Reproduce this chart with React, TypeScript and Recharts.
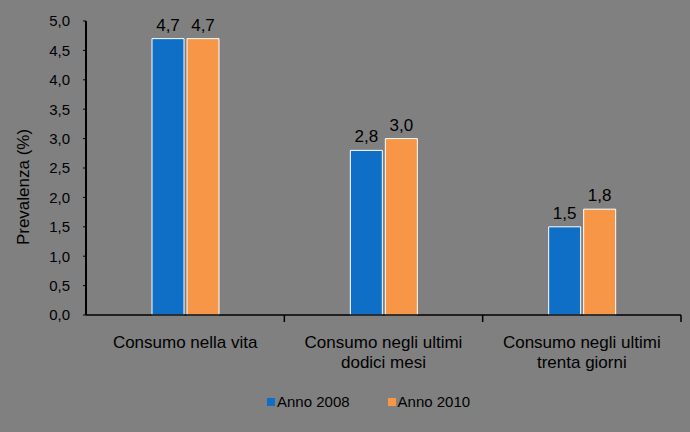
import React from "react";
import { BarChart, Bar, XAxis, YAxis, Legend, LabelList } from "recharts";

const categories = [
  "Consumo nella vita",
  "Consumo negli ultimi\ndodici mesi",
  "Consumo negli ultimi\ntrenta giorni",
];
const anno2008 = [4.7, 2.8, 1.5];
const anno2010 = [4.7, 3.0, 1.8];
const yTicks = [0, 0.5, 1, 1.5, 2, 2.5, 3, 3.5, 4, 4.5, 5];
const seriesNames = ["Anno 2008", "Anno 2010"];
const colors = ["#0F6FC6", "#F79646"];

const data = categories.map((c, i) => ({ cat: c, a2008: anno2008[i], a2010: anno2010[i] }));

const FONT = "'Liberation Sans', Arial, sans-serif";
const fmt = (v: number) => v.toFixed(1).replace(".", ",");

const XTick = (props: any) => {
  const { x, y, payload } = props;
  const half = payload && typeof payload.offset === "number" && payload.offset > 0 ? payload.offset : 99;
  const lines = String(payload.value).split("\n");
  return (
    <g>
      <line x1={x + half} x2={x + half} y1={y} y2={y + 7} stroke="#000" strokeWidth={1.5} />
      {lines.map((l: string, i: number) => (
        <text key={i} x={x} y={y + 33 + i * 20} textAnchor="middle" fontSize={17} fontFamily={FONT} fill="#000">
          {l}
        </text>
      ))}
    </g>
  );
};

const YLabel = (props: any) => {
  const vb = props.viewBox || { x: 0, y: 21, width: 86, height: 294 };
  const cx = vb.x + 23;
  const cy = vb.y + vb.height / 2 + 19;
  return (
    <text x={cx} y={cy} transform={`rotate(-90 ${cx} ${cy})`} textAnchor="middle" dominantBaseline="central" fontSize={17} fontFamily={FONT} fill="#000">
      Prevalenza (%)
    </text>
  );
};

const LegendContent = () => (
  <div style={{ display: "flex", alignItems: "center", fontFamily: FONT, fontSize: 15, color: "#000", whiteSpace: "nowrap" }}>
    {seriesNames.map((n, i) => (
      <div key={n} style={{ display: "flex", alignItems: "center", marginRight: i === 0 ? 38 : 0 }}>
        <span style={{ display: "inline-block", width: 8, height: 8, background: colors[i], marginRight: 2 }} />
        <span>{n}</span>
      </div>
    ))}
  </div>
);

export default function App() {
  return (
    <div style={{ position: "absolute", left: 0, top: 0, width: 690, height: 432, background: "#808080" }}>
      <BarChart
        width={690}
        height={432}
        data={data}
        margin={{ top: 21, right: 9, left: 0, bottom: 57 }}
        barSize={32}
        barGap={3}
      >
        <XAxis
          dataKey="cat"
          height={60}
          interval={0}
          tickLine={false}
          tickSize={0}
          tickMargin={0}
          axisLine={{ stroke: "#000", strokeWidth: 1.5 }}
          tick={<XTick />}
        />
        <YAxis
          width={86}
          domain={[0, 5]}
          ticks={yTicks}
          interval={0}
          tickFormatter={fmt}
          tickSize={3}
          tickMargin={13}
          tickLine={{ stroke: "#000" }}
          axisLine={{ stroke: "#000", strokeWidth: 2 }}
          tick={{ fontSize: 15, fontFamily: FONT, fill: "#000" }}
          label={<YLabel />}
        />
        <Legend
          content={<LegendContent />}
          wrapperStyle={{ top: 393, left: 267, bottom: "auto", width: "auto", height: 0, overflow: "visible" }}
        />
        <Bar dataKey="a2008" name={seriesNames[0]} fill={colors[0]} stroke="#fff" strokeWidth={1} isAnimationActive={false}>
          <LabelList dataKey="a2008" position="top" offset={8} formatter={(v: any) => fmt(Number(v))} style={{ fontSize: 17, fontFamily: FONT, fill: "#000" }} />
        </Bar>
        <Bar dataKey="a2010" name={seriesNames[1]} fill={colors[1]} stroke="#fff" strokeWidth={1} isAnimationActive={false}>
          <LabelList dataKey="a2010" position="top" offset={8} formatter={(v: any) => fmt(Number(v))} style={{ fontSize: 17, fontFamily: FONT, fill: "#000" }} />
        </Bar>
      </BarChart>
    </div>
  );
}
